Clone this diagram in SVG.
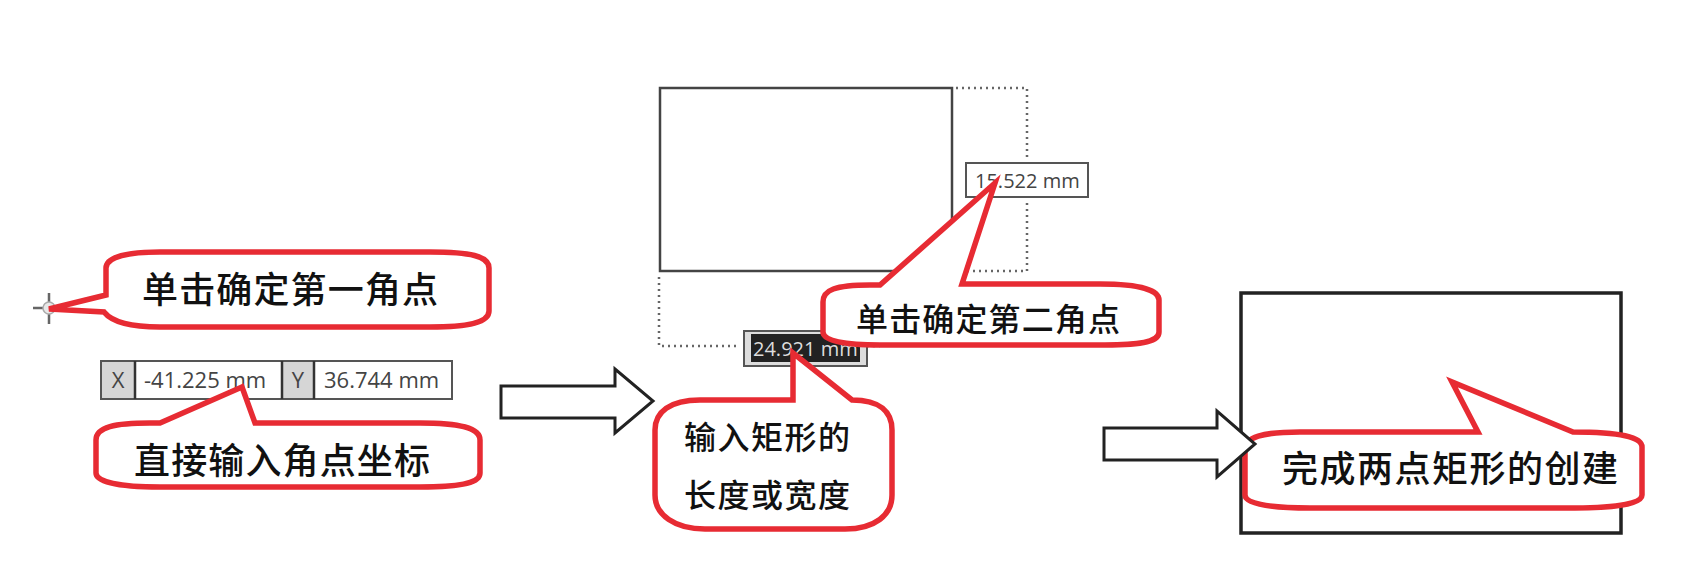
<svg xmlns="http://www.w3.org/2000/svg" width="1691" height="573" viewBox="0 0 1691 573">
<style>
.call{fill:#fff;stroke:#e72b33;stroke-width:5.500;stroke-linejoin:miter}
.cjk{font-family:"Noto Sans CJK SC","Noto Sans",sans-serif;font-weight:500;fill:#111}
.ui{font-family:"Open Sans","Noto Sans",sans-serif;font-size:20px;fill:#444}
.xy{font-size:22px}
.box{fill:#fff;stroke:#555;stroke-width:2}
.dot{fill:none;stroke:#666;stroke-width:2.500;stroke-dasharray:2 4}
.arrow{fill:#fff;stroke:#222;stroke-width:3}
</style>
<rect width="1691" height="573" fill="#fff"/>
<g id="crosshair" stroke="#666" stroke-width="2.500" fill="none">
<path d="M33 308H43M55 308H58M49 293V302M49 314V324"/><circle cx="49" cy="308" r="6" fill="#e8e8e8" stroke="#aaa" stroke-width="1.500"/>
</g>
<g id="xy-input">
<rect class="box" x="101" y="361" width="351" height="38"/>
<rect x="102" y="362" width="33" height="36" fill="#d6d6d6"/>
<rect x="282" y="362" width="32" height="36" fill="#d6d6d6"/>
<path d="M135 361V399M282 361V399M314 361V399" stroke="#333" stroke-width="2.500"/>
<text class="ui xy" x="118" y="388" text-anchor="middle">X</text>
<text class="ui xy" x="144" y="388">-41.225 mm</text>
<text class="ui xy" x="298" y="388" text-anchor="middle">Y</text>
<text class="ui xy" x="324" y="388">36.744 mm</text>
</g>
<g id="sketch-rect">
<rect x="660" y="88" width="292" height="183" fill="#fff" stroke="#444" stroke-width="2.500"/>
<path class="dot" d="M956 88H1027V158M1027 203V271H965M659 277V346H740M867 346H880"/>
</g>
<g id="dim-height">
<rect class="box" x="966" y="163" width="122" height="34"/>
<text class="ui" x="975" y="188">15.522 mm</text>
</g>
<g id="dim-width">
<rect x="744" y="331" width="123" height="35" fill="#ddd" stroke="#555" stroke-width="2"/>
<rect x="751" y="334" width="109" height="28" fill="#222"/>
<text class="ui" x="753" y="356" style="fill:#ddd">24.921 mm</text>
</g>
<g id="final-rect"><rect x="1241" y="293" width="380" height="240" fill="#fff" stroke="#222" stroke-width="3.500"/></g>
<g id="callout-first">
<path class="call" d="M49 309L106 295V268C106 256 130 252 160 252H430C470 252 489 256 489 268V311C489 322 470 327 430 327H160C130 327 112 322 104 312Z"/>
<text class="cjk" x="142" y="303" font-size="36" textLength="296">单击确定第一角点</text>
</g>
<g id="callout-coords">
<path class="call" d="M242 387L160 423H150C115 423 96 427 96 440V473C96 482 120 487 160 487H420C465 487 480 482 480 473V440C480 428 460 423 420 423H255Z"/>
<text class="cjk" x="134" y="474" font-size="36" textLength="296">直接输入角点坐标</text>
</g>
<g id="callout-second">
<path class="call" d="M995 183L880 285H870C835 285 823 290 823 302V332C823 341 845 345 880 345H1105C1145 345 1159 341 1159 332V300C1159 290 1140 284 1100 284H962Z"/>
<text class="cjk" x="856" y="331" font-size="32" textLength="264">单击确定第二角点</text>
</g>
<g id="callout-size">
<path class="call" d="M793 353V400H700C670 400 655 412 655 430V495C655 515 675 529 705 529H845C875 529 892 515 892 495V430C892 412 880 400 852 400Z"/>
<text class="cjk" x="684" y="449" font-size="32" textLength="166">输入矩形的</text>
<text class="cjk" x="684" y="507" font-size="32" textLength="166">长度或宽度</text>
</g>
<g id="callout-done">
<path class="call" d="M1452 382L1478 432H1300C1262 432 1245 437 1245 450V495C1245 503 1265 508 1310 508H1575C1620 508 1642 503 1642 495V447C1642 437 1620 432 1573 432Z"/>
<text class="cjk" x="1282" y="482" font-size="36" textLength="336">完成两点矩形的创建</text>
</g>
<g id="connectors">
<path class="arrow" d="M501 386H615V369L653 401L615 433V418H501Z"/>
<path class="arrow" d="M1104 428H1217V411L1255 444L1217 477V460H1104Z"/>
</g>
</svg>
